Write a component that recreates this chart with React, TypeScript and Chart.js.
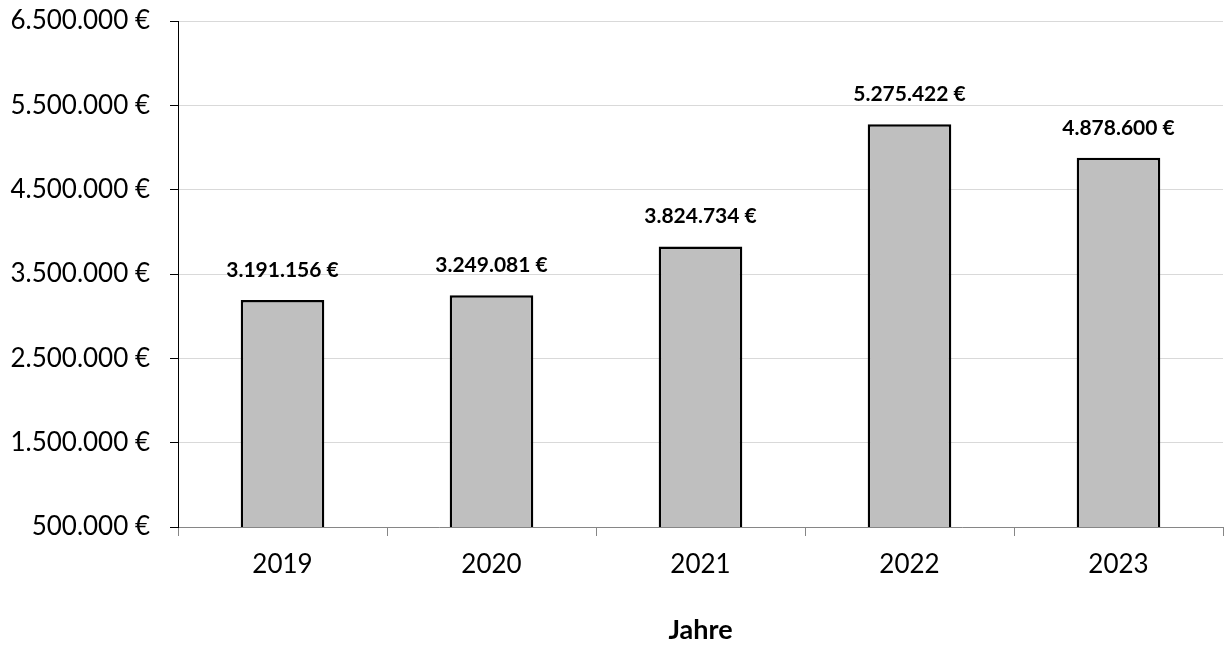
import React, { useEffect, useRef } from "react";
import { Chart, registerables } from "chart.js";

Chart.register(...registerables);

const categories = ["2019", "2020", "2021", "2022", "2023"];
const values = [3191156, 3249081, 3824734, 5275422, 4878600];
const yMin = 500000;
const yMax = 6500000;
const yStep = 1000000;
const xTitle = "Jahre";

const FONT = "Lato, 'Open Sans', sans-serif";

function fmt(v: number): string {
  return Math.round(v).toString().replace(/\B(?=(\d{3})+(?!\d))/g, ".") + " €";
}

const labelPlugin = {
  id: "barLabels",
  afterDatasetsDraw(chart: any) {
    const ctx = chart.ctx;
    const meta = chart.getDatasetMeta(0);
    ctx.save();
    ctx.font = `bold 21px ${FONT}`;
    ctx.fillStyle = "#000";
    ctx.textAlign = "center";
    ctx.textBaseline = "middle";
    meta.data.forEach((el: any, i: number) => {
      ctx.fillText(fmt(values[i]), el.x, el.y - 30);
    });
    ctx.restore();
  },
};

export default function App() {
  const ref = useRef<HTMLCanvasElement | null>(null);
  useEffect(() => {
    if (!ref.current) return;
    const chart = new Chart(ref.current, {
      type: "bar",
      data: {
        labels: categories,
        datasets: [
          {
            data: values,
            backgroundColor: "#bfbfbf",
            borderColor: "#000",
            borderWidth: 2.5,
            categoryPercentage: 0.8,
            barPercentage: 0.5,
          },
        ],
      },
      options: {
        animation: false,
        responsive: false,
        maintainAspectRatio: false,
        layout: { padding: { top: 21, right: 4, left: 0, bottom: 0 } },
        plugins: { legend: { display: false }, tooltip: { enabled: false } },
        scales: {
          x: {
            offset: true,
            grid: {
              offset: true,
              drawOnChartArea: false,
              drawTicks: true,
              tickLength: 9,
              color: "#868686",
            },
            border: { color: "#868686", width: 1 },
            ticks: { color: "#000", font: { family: FONT, size: 26 }, padding: 13 },
            title: {
              display: true,
              text: xTitle,
              color: "#000",
              font: { family: FONT, size: 27, weight: "bold" },
              padding: { top: 0, bottom: 0 },
            },
            afterFit: (axis: any) => {
              axis.height = 119;
              axis.paddingLeft = 0;
              axis.paddingRight = 0;
            },
          },
          y: {
            min: yMin,
            max: yMax,
            ticks: {
              stepSize: yStep,
              color: "#000",
              font: { family: FONT, size: 26 },
              padding: 20,
              callback: (v: any) => fmt(Number(v)),
            },
            grid: {
              color: "#d9d9d9",
              drawTicks: true,
              tickLength: 8,
              tickColor: "#000",
            },
            border: { color: "#000", width: 1 },
            afterFit: (axis: any) => {
              axis.width = 178;
              axis.paddingTop = 0;
              axis.paddingBottom = 0;
            },
          },
        },
      },
      plugins: [labelPlugin],
    });
    return () => chart.destroy();
  }, []);
  return (
    <div style={{ position: "fixed", left: 0, top: 0, width: 1227, height: 646, background: "#fff" }}>
      <canvas ref={ref} width={1227} height={646} style={{ width: 1227, height: 646 }} />
    </div>
  );
}
